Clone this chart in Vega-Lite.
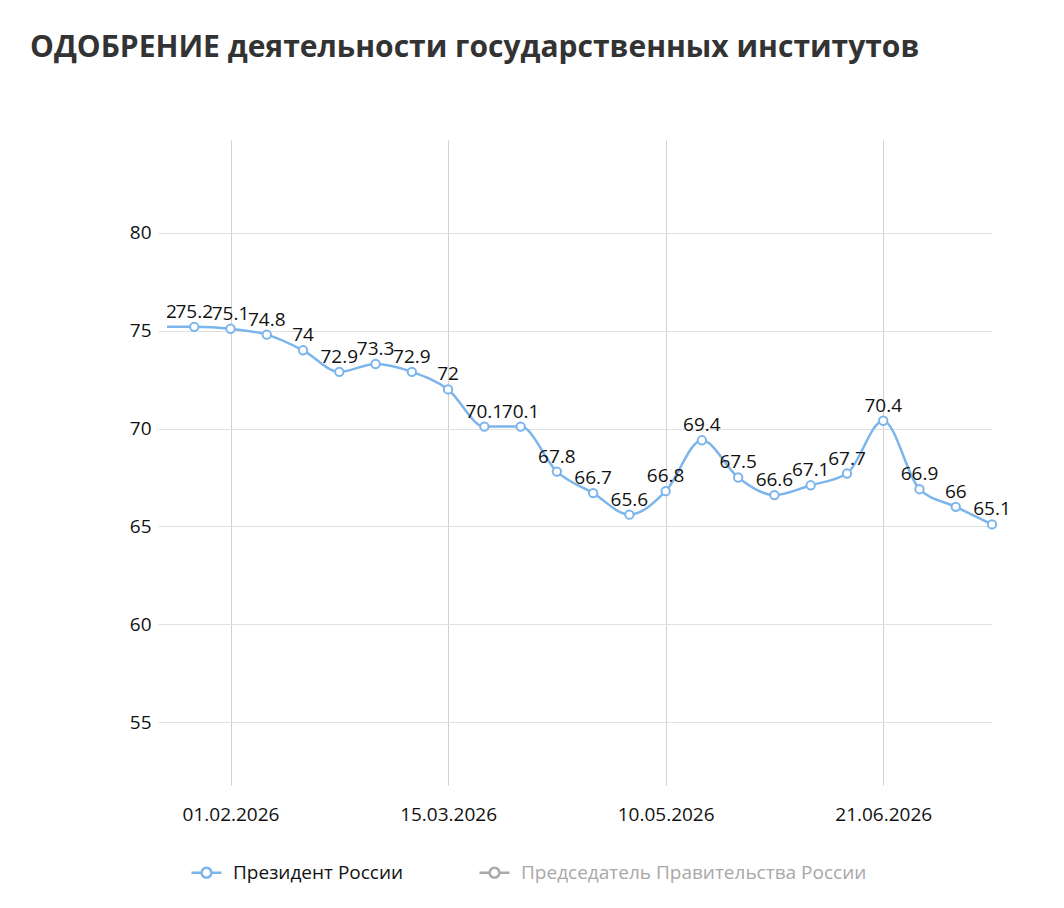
{
  "$schema": "https://vega.github.io/schema/vega-lite/v6.json",
  "autosize": {"type": "none"},
  "width": 843,
  "height": 645,
  "padding": {"left": 167, "top": 140, "right": 54, "bottom": 123},
  "background": "white",
  "title": {
    "text": "ОДОБРЕНИЕ деятельности государственных институтов",
    "anchor": "start",
    "frame": "group",
    "dx": -137,
    "offset": 77,
    "font": "Open Sans",
    "fontSize": 30,
    "fontWeight": "bold",
    "color": "#333333"
  },
  "config": {
    "view": {"stroke": null},
    "font": "Open Sans"
  },
  "data": {
    "values": [
      {"date": "18.01.2026", "value": 75.2, "series": "Президент России"},
      {"date": "25.01.2026", "value": 75.2, "series": "Президент России"},
      {"date": "01.02.2026", "value": 75.1, "series": "Президент России"},
      {"date": "08.02.2026", "value": 74.8, "series": "Президент России"},
      {"date": "15.02.2026", "value": 74, "series": "Президент России"},
      {"date": "22.02.2026", "value": 72.9, "series": "Президент России"},
      {"date": "01.03.2026", "value": 73.3, "series": "Президент России"},
      {"date": "08.03.2026", "value": 72.9, "series": "Президент России"},
      {"date": "15.03.2026", "value": 72, "series": "Президент России"},
      {"date": "22.03.2026", "value": 70.1, "series": "Президент России"},
      {"date": "29.03.2026", "value": 70.1, "series": "Президент России"},
      {"date": "05.04.2026", "value": 67.8, "series": "Президент России"},
      {"date": "12.04.2026", "value": 66.7, "series": "Президент России"},
      {"date": "26.04.2026", "value": 65.6, "series": "Президент России"},
      {"date": "10.05.2026", "value": 66.8, "series": "Президент России"},
      {"date": "17.05.2026", "value": 69.4, "series": "Президент России"},
      {"date": "24.05.2026", "value": 67.5, "series": "Президент России"},
      {"date": "31.05.2026", "value": 66.6, "series": "Президент России"},
      {"date": "07.06.2026", "value": 67.1, "series": "Президент России"},
      {"date": "14.06.2026", "value": 67.7, "series": "Президент России"},
      {"date": "21.06.2026", "value": 70.4, "series": "Президент России"},
      {"date": "28.06.2026", "value": 66.9, "series": "Президент России"},
      {"date": "05.07.2026", "value": 66, "series": "Президент России"},
      {"date": "12.07.2026", "value": 65.1, "series": "Президент России"}
    ]
  },
  "encoding": {
    "x": {
      "field": "date",
      "type": "ordinal",
      "sort": null,
      "scale": {"type": "point", "range": [-9, 825], "padding": 0},
      "axis": {
        "title": null,
        "values": ["01.02.2026", "15.03.2026", "10.05.2026", "21.06.2026"],
        "labelAngle": 0,
        "labelFontSize": 19,
        "labelColor": "#111111",
        "labelPadding": 20,
        "ticks": false,
        "domain": false,
        "grid": true,
        "gridColor": "#d0d0d0",
        "gridWidth": 1
      }
    },
    "y": {
      "field": "value",
      "type": "quantitative",
      "scale": {"domain": [51.78, 84.75], "nice": false, "zero": false},
      "axis": {
        "title": null,
        "values": [55, 60, 65, 70, 75, 80],
        "labelFontSize": 19,
        "labelColor": "#111111",
        "labelPadding": 16,
        "ticks": false,
        "domain": false,
        "grid": true,
        "gridColor": "#e0e0e0"
      }
    }
  },
  "layer": [
    {
      "mark": {"type": "line", "interpolate": "monotone", "strokeWidth": 2.5, "clip": true},
      "encoding": {
        "color": {
          "field": "series",
          "type": "nominal",
          "scale": {
            "domain": ["Президент России", "Председатель Правительства России"],
            "range": ["#7cb5ec", "#aaaaaa"]
          },
          "legend": {
            "title": null,
            "orient": "none",
            "legendX": 23,
            "legendY": 716,
            "direction": "horizontal",
            "symbolType": "M-1,0L-0.33,0M0.33,0L1,0M-0.33,0A0.33,0.33 0 1,0 0.33,0A0.33,0.33 0 1,0 -0.33,0",
            "symbolSize": 900,
            "symbolStrokeWidth": 2.5,
            "symbolFillColor": "white",
            "labelFontSize": 19,
            "labelLimit": 500,
            "labelOffset": 10,
            "columnPadding": 70,
            "labelColor": {"expr": "datum.label == 'Председатель Правительства России' ? '#a8a8a8' : '#111111'"}
          }
        }
      }
    },
    {
      "mark": {"type": "point", "filled": true, "fill": "white", "stroke": "#7cb5ec", "strokeWidth": 2, "size": 70, "opacity": 1, "clip": true}
    },
    {
      "mark": {"type": "text", "dy": -15, "fontSize": 19, "color": "#111111", "clip": true},
      "encoding": {"text": {"field": "value", "type": "quantitative"}}
    }
  ]
}
